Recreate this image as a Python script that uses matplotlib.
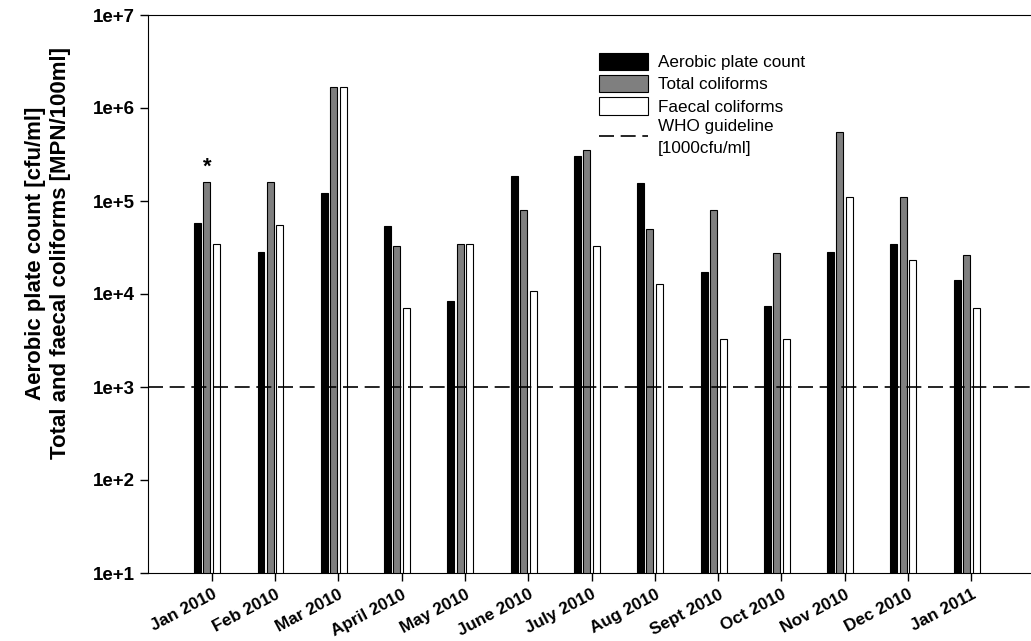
import numpy as np
import matplotlib.pyplot as plt
from matplotlib.ticker import FixedLocator, FixedFormatter

plt.rcParams['font.family'] = ['Liberation Sans', 'DejaVu Sans']

months = ["Jan 2010", "Feb 2010", "Mar 2010", "April 2010", "May 2010", "June 2010",
          "July 2010", "Aug 2010", "Sept 2010", "Oct 2010", "Nov 2010", "Dec 2010", "Jan 2011"]

aerobic = [58000, 28300, 122000, 54000, 8400, 186000, 305000, 156000, 17300, 7400, 28300, 34500, 14100]
total = [160000, 160000, 1700000, 33000, 34500, 80000, 353000, 50000, 80000, 27600, 552000, 110000, 26200]
faecal = [34500, 55000, 1700000, 7000, 34500, 10800, 33000, 12800, 3300, 3300, 110000, 23200, 7000]
who_limit = 1000

x = np.arange(len(months))
w = 0.11

fig = plt.figure(figsize=(10.31, 6.41), dpi=100)
ax = fig.add_axes([148/1031, 68/641, 883/1031, 558/641])

b1 = ax.bar(x - 0.215, aerobic, w, color='black', edgecolor='black', lw=0.8)
b2 = ax.bar(x - 0.07, total, w, color='#7f7f7f', edgecolor='black', lw=0.8)
b3 = ax.bar(x + 0.085, faecal, w, color='white', edgecolor='black', lw=0.8)
ln = ax.axhline(who_limit, color='black', lw=1.2, ls=(0, (9, 4)))

# significance marker
ax.text(x[0] - 0.07, 2.3e5, '*', ha='center', va='center', fontsize=16, fontweight='bold')

ax.set_yscale('log')
ax.set_ylim(10, 1e7)
ax.set_xlim(-1, 12.95)
yt = [1e1, 1e2, 1e3, 1e4, 1e5, 1e6, 1e7]
ax.yaxis.set_major_locator(FixedLocator(yt))
ax.yaxis.set_major_formatter(FixedFormatter(["1e+%d" % i for i in range(1, 8)]))
ax.yaxis.set_minor_locator(FixedLocator([]))
ax.set_xticks(x + 0.0075)
ax.set_xticklabels(months, rotation=28, ha='right', rotation_mode='anchor')
ax.tick_params(direction='out', length=6, width=1)
ax.tick_params(axis='y', labelsize=13.5)
ax.tick_params(axis='x', labelsize=12.3, pad=4)
for lab in ax.get_xticklabels() + ax.get_yticklabels():
    lab.set_fontweight('bold')
ax.spines['right'].set_visible(False)

fig.text(0.047, 0.605, "Aerobic plate count [cfu/ml]\nTotal and faecal coliforms [MPN/100ml]",
         rotation=90, ha='center', va='center', multialignment='center',
         fontsize=16, fontweight='bold', linespacing=1.25)

leg = ax.legend([b1, b2, b3, ln],
                ['Aerobic plate count', 'Total coliforms', 'Faecal coliforms', 'WHO guideline\n[1000cfu/ml]'],
                loc='upper left', bbox_to_anchor=(0.503, 0.945), frameon=False, fontsize=12.3,
                handlelength=2.85, handleheight=1.2, labelspacing=0.28, handletextpad=0.6,
                borderaxespad=0)
leg.get_texts()[3].set_linespacing(1.55)

fig.savefig('out.png', dpi=100)
